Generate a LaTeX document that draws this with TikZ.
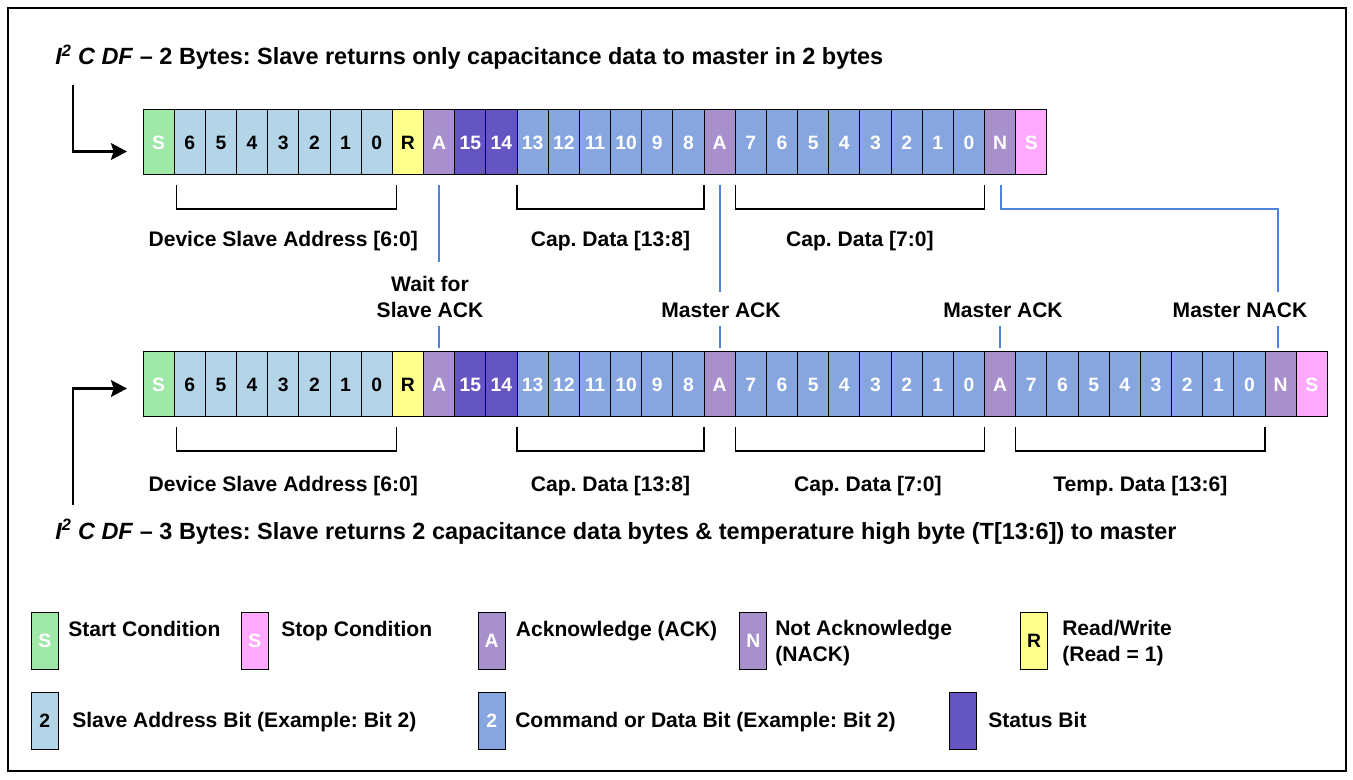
\documentclass[tikz,border=0pt]{standalone}
\usepackage{fontspec}
\setmainfont{Liberation Sans}
\usetikzlibrary{calc,arrows.meta}
\definecolor{cGreen}{RGB}{160,232,168}
\definecolor{cAddrC}{RGB}{180,212,232}
\definecolor{cYel}{RGB}{255,255,140}
\definecolor{cPur}{RGB}{168,144,204}
\definecolor{cStatC}{RGB}{100,85,195}
\definecolor{cDatC}{RGB}{135,165,222}
\definecolor{cPink}{RGB}{255,170,255}
\definecolor{cLine}{RGB}{80,130,220}
\frenchspacing
\begin{document}
\begin{tikzpicture}[x=0.75pt,y=-0.75pt,
  cell/.style={draw=black, line width=0.75pt, minimum width=23.38pt, minimum height=48.75pt,
    inner sep=0pt, outer sep=0pt, anchor=north west, font=\fontsize{14.5}{14.5}\selectfont\bfseries},
  cStart/.style={fill=cGreen, text=white},
  cAddr/.style={fill=cAddrC, text=black},
  cRW/.style={fill=cYel, text=black},
  cAck/.style={fill=cPur, text=white},
  cStat/.style={fill=cStatC, text=white},
  cDat/.style={fill=cDatC, text=white},
  cStop/.style={fill=cPink, text=white},
  lab/.style={font=\fontsize{15.8}{19.5}\selectfont\bfseries, inner sep=0pt},
  ttl/.style={font=\fontsize{17.6}{19.5}\selectfont\bfseries, inner sep=0pt, anchor=base west},
  brk/.style={line width=1pt, black},
  ackline/.style={line width=1.5pt, cLine},
  bigarrow/.style={line width=2.2pt, -{Stealth[length=12pt,width=12.5pt,inset=2pt]}},
  legbox/.style={draw=black, line width=0.75pt, minimum width=20.25pt, minimum height=42.75pt,
    inner sep=0pt, anchor=north west, font=\fontsize{14.5}{14.5}\selectfont\bfseries}
]
\useasboundingbox (0,0) rectangle (1353,780);
\draw[line width=1.5pt] (8,8) rectangle (1346,771);

% ---- Row 1 ----
\foreach \st/\lb [count=\i from 0] in {cStart/S,cAddr/6,cAddr/5,cAddr/4,cAddr/3,cAddr/2,cAddr/1,cAddr/0,cRW/R,cAck/A,cStat/15,cStat/14,cDat/13,cDat/12,cDat/11,cDat/10,cDat/9,cDat/8,cAck/A,cDat/7,cDat/6,cDat/5,cDat/4,cDat/3,cDat/2,cDat/1,cDat/0,cAck/N,cStop/S}
  \node[cell,\st] (r1c\i) at ({143+\i*31.17},110) {\lb};

% ---- Row 2 ----
\foreach \st/\lb [count=\i from 0] in {cStart/S,cAddr/6,cAddr/5,cAddr/4,cAddr/3,cAddr/2,cAddr/1,cAddr/0,cRW/R,cAck/A,cStat/15,cStat/14,cDat/13,cDat/12,cDat/11,cDat/10,cDat/9,cDat/8,cAck/A,cDat/7,cDat/6,cDat/5,cDat/4,cDat/3,cDat/2,cDat/1,cDat/0,cAck/A,cDat/7,cDat/6,cDat/5,cDat/4,cDat/3,cDat/2,cDat/1,cDat/0,cAck/N,cStop/S}
  \node[cell,\st] (r2c\i) at ({143+\i*31.17},352) {\lb};

% ---- Titles ----
\node[ttl] (t1) at (55,65) {\textit{I\textsuperscript{2} C DF} -- 2 Bytes: Slave returns only capacitance data to master in 2 bytes};
\node[ttl] (t2) at (55,539) {\textit{I\textsuperscript{2} C DF} -- 3 Bytes: Slave returns 2 capacitance data bytes \& temperature high byte (T[13:6]) to master};

% ---- Entry arrows ----
\coordinate (a1s) at (73,85);
\coordinate (a2s) at (73,505);
\draw[bigarrow] (a1s) |- ($(r1c0.west)+(-16,9)$);
\draw[bigarrow] (a2s) |- ($(r2c0.west)+(-16,4)$);

% ---- Brackets row 1 ----
\draw[brk] ($(r1c1.south west)+(2,10)$) -- ($(r1c1.south west)+(2,34)$) -- ($(r1c7.south east)+(4,34)$) -- ($(r1c7.south east)+(4,10)$);
\draw[brk] ($(r1c12.south west)+(0,10)$) -- ($(r1c12.south west)+(0,34)$) -- ($(r1c17.south east)+(0,34)$) -- ($(r1c17.south east)+(0,10)$);
\draw[brk] ($(r1c19.south west)+(0,10)$) -- ($(r1c19.south west)+(0,34)$) -- ($(r1c26.south east)+(0,34)$) -- ($(r1c26.south east)+(0,10)$);
\node[lab, anchor=base] (l1a) at ($(r1c1.south west)!0.5!(r1c7.south east)+(0,72)$) {Device Slave Address [6:0]};
\node[lab, anchor=base] (l1b) at ($(r1c12.south west)!0.5!(r1c17.south east)+(0,72)$) {Cap. Data [13:8]};
\node[lab, anchor=base] (l1c) at ($(r1c19.south west)!0.5!(r1c26.south east)+(0,72)$) {Cap. Data [7:0]};

% ---- Brackets row 2 ----
\draw[brk] ($(r2c1.south west)+(2,10)$) -- ($(r2c1.south west)+(2,34)$) -- ($(r2c7.south east)+(4,34)$) -- ($(r2c7.south east)+(4,10)$);
\draw[brk] ($(r2c12.south west)+(0,10)$) -- ($(r2c12.south west)+(0,34)$) -- ($(r2c17.south east)+(0,34)$) -- ($(r2c17.south east)+(0,10)$);
\draw[brk] ($(r2c19.south west)+(0,10)$) -- ($(r2c19.south west)+(0,34)$) -- ($(r2c26.south east)+(0,34)$) -- ($(r2c26.south east)+(0,10)$);
\draw[brk] ($(r2c28.south west)+(0,10)$) -- ($(r2c28.south west)+(0,34)$) -- ($(r2c35.south east)+(0,34)$) -- ($(r2c35.south east)+(0,10)$);
\node[lab, anchor=base] (l2a) at ($(r2c1.south west)!0.5!(r2c7.south east)+(0,74)$) {Device Slave Address [6:0]};
\node[lab, anchor=base] (l2b) at ($(r2c12.south west)!0.5!(r2c17.south east)+(0,74)$) {Cap. Data [13:8]};
\node[lab, anchor=base] (l2c) at ($(r2c19.south west)!0.5!(r2c26.south east)+(8,74)$) {Cap. Data [7:0]};
\node[lab, anchor=base] (l2d) at ($(r2c28.south west)!0.5!(r2c35.south east)+(0,74)$) {Temp. Data [13:6]};

% ---- ACK labels ----
\node[lab, align=center] (wait) at (430,297) {Wait for\\Slave ACK};
\node[lab, anchor=base] (mack1) at (721,317.5) {Master ACK};
\node[lab, anchor=base] (mack2) at (1003,317.5) {Master ACK};
\node[lab, anchor=base] (mnack) at (1240,317.5) {Master NACK};

% ---- ACK lines ----
\draw[ackline] ($(r1c9.south)+(0,10)$) -- ($(r1c9.south)+(0,87)$);
\draw[ackline] ($(r2c9.north)+(0,-26)$) -- ($(r2c9.north)+(0,-4)$);
\draw[ackline] ($(r1c18.south)+(0,10)$) -- ($(r1c18.south)+(0,117)$);
\draw[ackline] ($(r2c18.north)+(0,-26)$) -- ($(r2c18.north)+(0,-4)$);
\draw[ackline] ($(r2c27.north)+(0,-26)$) -- ($(r2c27.north)+(0,-4)$);
\draw[ackline] ($(r1c27.south)+(1,10)$) |- ($(r2c36.north)+(-3,-143)$) -- ($(r2c36.north)+(-3,-60)$);
\draw[ackline] ($(r2c36.north)+(-3,-26)$) -- ($(r2c36.north)+(-3,-4)$);

% ---- Legend ----
\node[legbox, fill=cGreen, text=white] (kS) at (30.7,612) {S};
\node[lab, anchor=base west] (kSt) at (68,636) {Start Condition};
\node[legbox, fill=cPink, text=white] (kP) at (240.7,612) {S};
\node[lab, anchor=base west] (kPt) at (281,636) {Stop Condition};
\node[legbox, fill=cPur, text=white] (kA) at (477.7,612) {A};
\node[lab, anchor=base west] (kAt) at (515.7,636) {Acknowledge (ACK)};
\node[legbox, fill=cPur, text=white] (kN) at (739.3,612) {N};
\node[lab, anchor=west, align=left] (kNt) at (775,643) {Not Acknowledge\\(NACK)};
\node[legbox, fill=cYel, text=black] (kR) at (1020,612) {R};
\node[lab, anchor=west, align=left] (kRt) at (1062,643) {Read/Write\\(Read = 1)};
\node[legbox, fill=cAddrC, text=black] (kB) at (30.7,692) {2};
\node[lab, anchor=base west] (kBt) at (72,727) {Slave Address Bit (Example: Bit 2)};
\node[legbox, fill=cDatC, text=white] (kD) at (477.7,692) {2};
\node[lab, anchor=base west] (kDt) at (515,727) {Command or Data Bit (Example: Bit 2)};
\node[legbox, fill=cStatC] (kT) at (949.3,692) {};
\node[lab, anchor=base west] (kTt) at (988,727) {Status Bit};
\end{tikzpicture}
\end{document}
